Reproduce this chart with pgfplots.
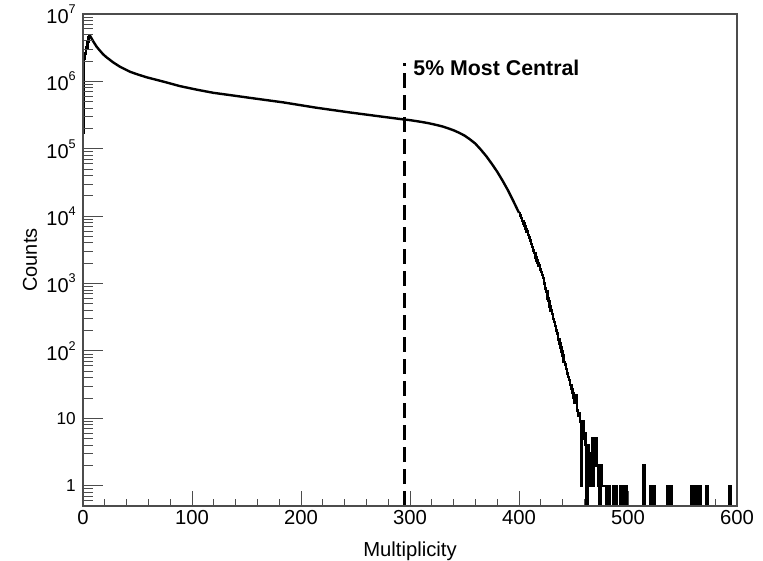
\documentclass[border=0pt]{standalone}
\usepackage{pgfplots}
\pgfplotsset{compat=1.18}
\usepackage{fontspec}
\setmainfont{Liberation Sans}
\newcommand\ex[1]{10\raisebox{0.5em}{\fontsize{9.5pt}{10pt}\selectfont #1}}
\begin{document}
\begin{tikzpicture}
\begin{axis}[name=ax,
  width=490.5pt, height=369pt, scale only axis,
  xmin=0, xmax=600, ymin=0.5, ymax=1e7, ymode=log,
  axis line style={black!70, line width=0.8pt},
  tick style={black!70, line width=0.75pt},
  tick align=inside, tick pos=left,
  xtick={0,100,...,600}, xticklabels={0,100,200,300,400,500,600},
  minor x tick num=4,
  major tick length=11.25pt, minor tick length=5.5pt,
  ytick=\empty,
  xticklabel style={font=\fontsize{15.2}{18}\selectfont},
  xlabel={Multiplicity},
  xlabel style={font=\fontsize{15.2}{18}\selectfont, at={(axis description cs:0.5,-0.1026)}, anchor=base},
]
% head of histogram (per bin)
\addplot[const plot, black, line width=1.8pt] coordinates {
(0,1.7e5) (1,2.2e6) (2,2.6e6) (3,3.2e6) (4,3.9e6) (5,4.6e6) (6,4.9e6)
};
% smooth falling part
\addplot[sharp plot, black, line width=1.8pt] coordinates {
(6,4.9e6) (7,4.6e6) (8,4.3e6) (9.5,3.9e6) (12.5,3.27e6) (15.6,2.85e6)
(18.5,2.52e6) (21.7,2.27e6) (27.8,1.91e6) (33.9,1.65e6) (43.1,1.39e6)
(50,1.27e6) (58.4,1.15e6) (75,9.8e5) (89,8.5e5)
(105,7.5e5) (119.5,6.77e5) (140,6.1e5) (153,5.7e5) (183.7,4.88e5)
(214.3,4.06e5) (244.8,3.46e5) (275.4,2.98e5) (294.4,2.72e5) (300,2.66e5)
(305,2.585e5) (310,2.51e5) (315,2.43e5) (320,2.34e5) (325,2.24e5)
(330,2.14e5) (335,2.01e5) (340,1.88e5) (345,1.73e5) (350,1.57e5)
(355,1.38e5) (360,1.19e5) (365,9.7e4) (370,7.76e4) (375,6.0e4)
(380,4.57e4) (385,3.35e4) (390,2.40e4) (395,1.65e4) (400,1.12e4)
};
% tail (per bin)
\addplot[const plot, black, line width=1.8pt] coordinates {
(400,11200) (401,10200) (402,9300) (403,8500) (404,7800) (405,7100)
(406,6450) (407,5900) (408,5250) (409,4800) (410,4350) (411,3900)
(412,3470) (413,3100) (414,2820) (415,2450) (416,2210) (417,2000)
(418,1860) (419,1620) (420,1480) (421,1350) (422,1200) (423,1000)
(424,850) (425,760) (426,600) (427,550) (428,457) (429,398) (430,355)
(431,295) (432,269) (433,234) (434,200) (435,182) (436,148) (437,129)
(438,112) (439,98) (440,85) (441,69) (442,63) (443,54) (444,46) (445,41)
(446,37) (447,31) (448,27) (449,24) (450,20) (451,17) (452,22) (453,13)
(454,11) (455,12) (456,9) (457,1) (458,9) (459,5) (460,6) (461,4)
(462,0.1) (463,4) (464,3) (465,1) (466,3) (467,5) (468,1) (469,5) (470,5)
(471,2) (472,2) (473,1) (474,0.1) (475,2) (476,1) (477,1) (478,1) (479,1)
(480,0.1) (481,1) (482,1) (483,0.1) (486,1) (487,0.1) (488,1) (489,1)
(490,0.1) (493,1) (494,0.1) (495,1) (496,1) (497,0.1) (498,1) (499,0.1)
(514,2) (515,0.1) (520,1) (521,0.1) (522,1) (523,0.1) (524,1) (525,0.1)
(536,1) (537,0.1) (538,1) (539,1) (540,0.1) (558,1) (559,0.1) (560,1)
(561,1) (562,0.1) (563,1) (564,0.1) (565,1) (566,1) (567,0.1) (572,1)
(573,0.1) (593,1) (594,0.1) (600,0.1)
};
% 5% cut
\addplot[black, line width=1.6pt, dash pattern=on 11.25pt off 5.25pt] coordinates {(295,0.5) (295,1.9e6)};
\node[anchor=base west, inner sep=0pt, font=\bfseries\fontsize{16}{19}\selectfont] at (axis cs:302.9,1.24e6) {5\% Most Central};
\end{axis}
\begin{axis}[
  width=490.5pt, height=369pt, scale only axis,
  xmin=0, xmax=600, ymin=0.5, ymax=1e7, ymode=log,
  axis line style={black!70, line width=0.8pt},
  tick style={black!70, line width=0.75pt},
  tick align=inside, tick pos=left,
  xtick=\empty,
  ytick={1,10,100,1000,1e4,1e5,1e6,1e7},
  yticklabels={{\fontsize{12.9}{15}\selectfont 1},{\fontsize{12.9}{15}\selectfont 10},\ex{2},\ex{3},\ex{4},\ex{5},\ex{6},\ex{7}},
  minor ytick={0.5,0.6,0.7,0.8,0.9,2,3,4,5,6,7,8,9,20,30,40,50,60,70,80,90,200,300,400,500,600,700,800,900,2000,3000,4000,5000,6000,7000,8000,9000,20000,30000,40000,50000,60000,70000,80000,90000,2e5,3e5,4e5,5e5,6e5,7e5,8e5,9e5,2e6,3e6,4e6,5e6,6e6,7e6,8e6,9e6},
  major tick length=15pt, minor tick length=7.5pt,
  yticklabel style={font=\fontsize{15}{17}\selectfont, inner sep=0pt, xshift=-5.25pt},
  ylabel={Counts},
  ylabel style={font=\fontsize{15}{18}\selectfont, at={(axis description cs:-0.081,0.5)}, anchor=center},
]
\end{axis}
\pgfresetboundingbox
\path ([shift={(-62.25pt,-40.5pt)}]ax.south west) rectangle ([shift={(19.5pt,10.5pt)}]ax.north east);
\end{tikzpicture}
\end{document}
